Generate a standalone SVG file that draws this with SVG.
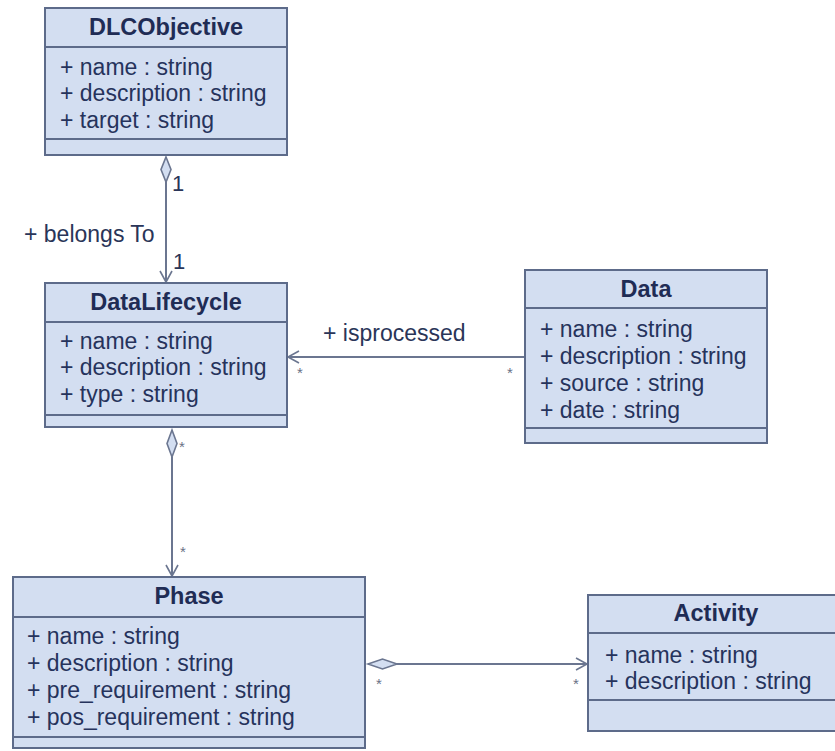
<svg xmlns="http://www.w3.org/2000/svg" width="835" height="751" viewBox="0 0 835 751">
  <style>
    .box { fill: #d3def1; stroke: #5d6b8a; stroke-width: 2; }
    .sep { stroke: #5d6b8a; stroke-width: 2; }
    .title { font-family: "Liberation Sans", Arial, sans-serif; font-weight: bold; font-size: 23.5px; fill: #1f2c55; text-anchor: middle; }
    .attr { font-family: "Liberation Sans", Arial, sans-serif; font-size: 23px; fill: #26335c; }
    .lbl { font-family: "Liberation Sans", Arial, sans-serif; font-size: 23px; fill: #2a3558; }
    .mult { font-family: "Liberation Sans", Arial, sans-serif; font-size: 15px; fill: #6a7185; }
    .one { font-family: "Liberation Sans", Arial, sans-serif; font-size: 22px; fill: #2a3558; }
    .line { stroke: #6b7690; stroke-width: 2; fill: none; }
    .dia { fill: #d3def1; stroke: #6b7690; stroke-width: 1.6; }
  </style>
  <defs>
    <marker id="open" markerWidth="14" markerHeight="14" refX="12" refY="7" orient="auto" markerUnits="userSpaceOnUse">
      <path d="M1,1 L12,7 L1,13" fill="none" stroke="#6b7690" stroke-width="1.6"/>
    </marker>
  </defs>
  <rect width="835" height="751" fill="#ffffff"/>

  <g id="connectors">
    <!-- DLCObjective to DataLifecycle -->
    <line class="line" x1="166" y1="182" x2="166" y2="282" marker-end="url(#open)"/>
    <path class="dia" d="M166,157 L171,169.5 L166,182 L161,169.5 Z"/>
    <text class="one" x="172" y="191">1</text>
    <text class="one" x="173" y="269">1</text>
    <text class="lbl" x="24" y="242">+ belongs To</text>

    <!-- Data to DataLifecycle -->
    <line class="line" x1="525" y1="357" x2="288" y2="357" marker-end="url(#open)"/>
    <text class="lbl" x="323" y="341">+ isprocessed</text>
    <text class="mult" x="297" y="378">*</text>
    <text class="mult" x="507" y="378">*</text>

    <!-- DataLifecycle to Phase -->
    <line class="line" x1="172" y1="457" x2="172" y2="576" marker-end="url(#open)"/>
    <path class="dia" d="M172,430 L177,443.5 L172,457 L167,443.5 Z"/>
    <text class="mult" x="179" y="452">*</text>
    <text class="mult" x="180" y="557">*</text>

    <!-- Phase to Activity -->
    <line class="line" x1="397" y1="664" x2="587" y2="664" marker-end="url(#open)"/>
    <path class="dia" d="M368,664 L382.5,659 L397,664 L382.5,669 Z"/>
    <text class="mult" x="376" y="689">*</text>
    <text class="mult" x="573" y="689">*</text>
  </g>

  <g id="DLCObjective">
    <rect class="box" x="45" y="8" width="242" height="147"/>
    <line class="sep" x1="45" y1="47" x2="287" y2="47"/>
    <line class="sep" x1="45" y1="139" x2="287" y2="139"/>
    <text class="title" x="166" y="35">DLCObjective</text>
    <text class="attr" x="60" y="75">+ name : string</text>
    <text class="attr" x="60" y="101">+ description : string</text>
    <text class="attr" x="60" y="128">+ target : string</text>
  </g>

  <g id="DataLifecycle">
    <rect class="box" x="45" y="283" width="242" height="144"/>
    <line class="sep" x1="45" y1="322" x2="287" y2="322"/>
    <line class="sep" x1="45" y1="415" x2="287" y2="415"/>
    <text class="title" x="166" y="310">DataLifecycle</text>
    <text class="attr" x="60" y="349">+ name : string</text>
    <text class="attr" x="60" y="375">+ description : string</text>
    <text class="attr" x="60" y="402">+ type : string</text>
  </g>

  <g id="Data">
    <rect class="box" x="525" y="270" width="242" height="173"/>
    <line class="sep" x1="525" y1="308" x2="767" y2="308"/>
    <line class="sep" x1="525" y1="428" x2="767" y2="428"/>
    <text class="title" x="646" y="297">Data</text>
    <text class="attr" x="540" y="337">+ name : string</text>
    <text class="attr" x="540" y="364">+ description : string</text>
    <text class="attr" x="540" y="391">+ source : string</text>
    <text class="attr" x="540" y="418">+ date : string</text>
  </g>

  <g id="Phase">
    <rect class="box" x="13" y="577" width="352" height="171"/>
    <line class="sep" x1="13" y1="617" x2="365" y2="617"/>
    <line class="sep" x1="13" y1="737" x2="365" y2="737"/>
    <text class="title" x="189" y="604">Phase</text>
    <text class="attr" x="27" y="644">+ name : string</text>
    <text class="attr" x="27" y="671">+ description : string</text>
    <text class="attr" x="27" y="698">+ pre_requirement : string</text>
    <text class="attr" x="27" y="725">+ pos_requirement : string</text>
  </g>

  <g id="Activity">
    <rect class="box" x="588" y="595" width="256" height="136"/>
    <line class="sep" x1="588" y1="633" x2="844" y2="633"/>
    <line class="sep" x1="588" y1="700" x2="844" y2="700"/>
    <text class="title" x="716" y="621">Activity</text>
    <text class="attr" x="605" y="663">+ name : string</text>
    <text class="attr" x="605" y="689">+ description : string</text>
  </g>
</svg>
